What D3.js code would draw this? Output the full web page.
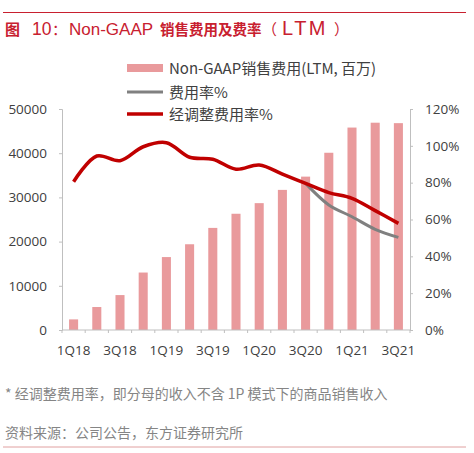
<!DOCTYPE html>
<html><head><meta charset="utf-8">
<script src="https://cdn.jsdelivr.net/npm/d3@7"></script>
<style>body{margin:0;background:#fff}svg{display:block}</style>
</head><body><svg id="c" width="474" height="453"></svg>
<script>
const categories = ["1Q18","2Q18","3Q18","4Q18","1Q19","2Q19","3Q19","4Q19","1Q20","2Q20","3Q20","4Q20","1Q21","2Q21","3Q21"];
const salesExpense = [2400,5200,7900,13000,16500,19400,23100,26300,28700,31700,34700,40100,45800,46900,46800];
const feeRate = [null,null,null,null,null,null,null,null,null,null,79.6,67.9,61.5,54.7,50.3];
const adjFeeRate = [80.5,94.5,91.9,99.5,101.7,93.8,92.7,87.3,89.6,84.7,79.6,74.6,71.5,64.8,57.9];
const leftTicks = [0,10000,20000,30000,40000,50000];
const rightTicks = [0,20,40,60,80,100,120];
const xLabels = ["1Q18","3Q18","1Q19","3Q19","1Q20","3Q20","1Q21","3Q21"];

const svg = d3.select("#c");
const L = 62, R = 410, T = 109, B = 330;
const red = "#C00000", gray = "#808080", pink = "#E99A9C", axisC = "#BFBFBF", txt = "#404040";
const titleRed = "#C8202F";
const numFont = "'Open Sans', sans-serif";
const cjk = "'Noto Sans CJK SC', sans-serif";
const latin = "'Liberation Sans', Arial, sans-serif";

const x = d3.scaleBand().domain(categories).range([L, R]).paddingInner(0.61).paddingOuter(0.305);
const yL = d3.scaleLinear().domain([0, 50000]).range([B, T]);
const yR = d3.scaleLinear().domain([0, 120]).range([B, T]);

// header line & title
svg.append("line").attr("x1",3).attr("x2",466).attr("y1",12.5).attr("y2",12.5).attr("stroke",titleRed).attr("stroke-width",1);
const title = svg.append("text").attr("x",5).attr("y",35).attr("fill",titleRed).attr("font-family",cjk).attr("font-size",15);
title.append("tspan").attr("font-weight","bold").text("图");
title.append("tspan").attr("x",32).attr("font-family",latin).attr("font-size",17.5).text("10");
title.append("tspan").attr("x",52).text("：");
title.append("tspan").attr("x",69).attr("font-family",latin).attr("font-size",17).text("Non-GAAP");
title.append("tspan").attr("x",160).attr("font-weight","bold").attr("font-size",14.5).text("销售费用及费率");
title.append("tspan").attr("x",262).text("（");
title.append("tspan").attr("x",282).attr("font-family",latin).attr("font-size",20).attr("letter-spacing",2.5).text("LTM");
title.append("tspan").attr("x",334).text("）");

// bars
svg.append("g").selectAll("rect").data(salesExpense).join("rect")
  .attr("x",(d,i)=>x(categories[i])).attr("width",x.bandwidth())
  .attr("y",d=>yL(d)).attr("height",d=>B-yL(d)).attr("fill",pink);

// axes
const gL = svg.append("g").attr("transform",`translate(${L},0)`)
  .call(d3.axisLeft(yL).tickValues(leftTicks).tickSize(3).tickPadding(12).tickFormat(d3.format("d")));
const gR = svg.append("g").attr("transform",`translate(${R},0)`)
  .call(d3.axisRight(yR).tickValues(rightTicks).tickSize(3).tickPadding(12).tickFormat(d=>d+"%"));
const bandStep = x.step();
const bounds = d3.range(categories.length+1).map(i=>L+i*bandStep);
const gX = svg.append("g").attr("transform",`translate(0,${B})`);
gX.append("line").attr("x1",L).attr("x2",R).attr("stroke",axisC);
gX.selectAll("line.t").data(bounds).join("line").attr("class","t")
  .attr("x1",d=>d).attr("x2",d=>d).attr("y1",0).attr("y2",3).attr("stroke",axisC);
gX.selectAll("text").data(xLabels).join("text")
  .attr("x",d=>x(d)+x.bandwidth()/2).attr("y",25).attr("text-anchor","middle")
  .attr("font-family",numFont).attr("font-size",13.5).attr("fill",txt).text(d=>d);
[gL,gR].forEach(g=>{
  g.select(".domain").attr("stroke",axisC);
  g.selectAll(".tick line").attr("stroke",axisC);
  g.selectAll(".tick text").attr("font-family",numFont).attr("font-size",13.5).attr("fill",txt);
});

// lines
const curve = d3.curveCatmullRom.alpha(0.5);
const line = d3.line().defined(d=>d!=null).x((d,i)=>x(categories[i])+x.bandwidth()/2).y(d=>yR(d)).curve(curve);
svg.append("path").datum(feeRate).attr("d",line).attr("fill","none").attr("stroke",gray).attr("stroke-width",3);
svg.append("path").datum(adjFeeRate).attr("d",line).attr("fill","none").attr("stroke",red).attr("stroke-width",3.5);

// legend
const lg = svg.append("g");
lg.append("rect").attr("x",127).attr("y",64).attr("width",36).attr("height",8).attr("fill",pink);
lg.append("line").attr("x1",127).attr("x2",163).attr("y1",92).attr("y2",92).attr("stroke",gray).attr("stroke-width",3);
lg.append("line").attr("x1",127).attr("x2",163).attr("y1",114).attr("y2",114).attr("stroke",red).attr("stroke-width",3.5);
const legTexts = ["Non-GAAP销售费用(LTM, 百万)","费用率%","经调整费用率%"];
lg.selectAll("text").data(legTexts).join("text").attr("x",169).attr("y",(d,i)=>[68,92,114][i]+5.5)
  .attr("font-family",cjk).attr("font-size",15).attr("fill",txt).text(d=>d);

// footnotes
svg.append("text").attr("x",5).attr("y",399).attr("font-family",cjk).attr("font-size",14).attr("fill","#858585")
  .text("* 经调整费用率，即分母的收入不含 1P 模式下的商品销售收入");
svg.append("text").attr("x",5).attr("y",438).attr("font-family",cjk).attr("font-size",14).attr("fill","#858585")
  .text("资料来源：公司公告，东方证券研究所");
svg.append("line").attr("x1",3).attr("x2",466).attr("y1",447).attr("y2",447).attr("stroke","#E0A0A0").attr("stroke-width",1);
</script></body></html>
